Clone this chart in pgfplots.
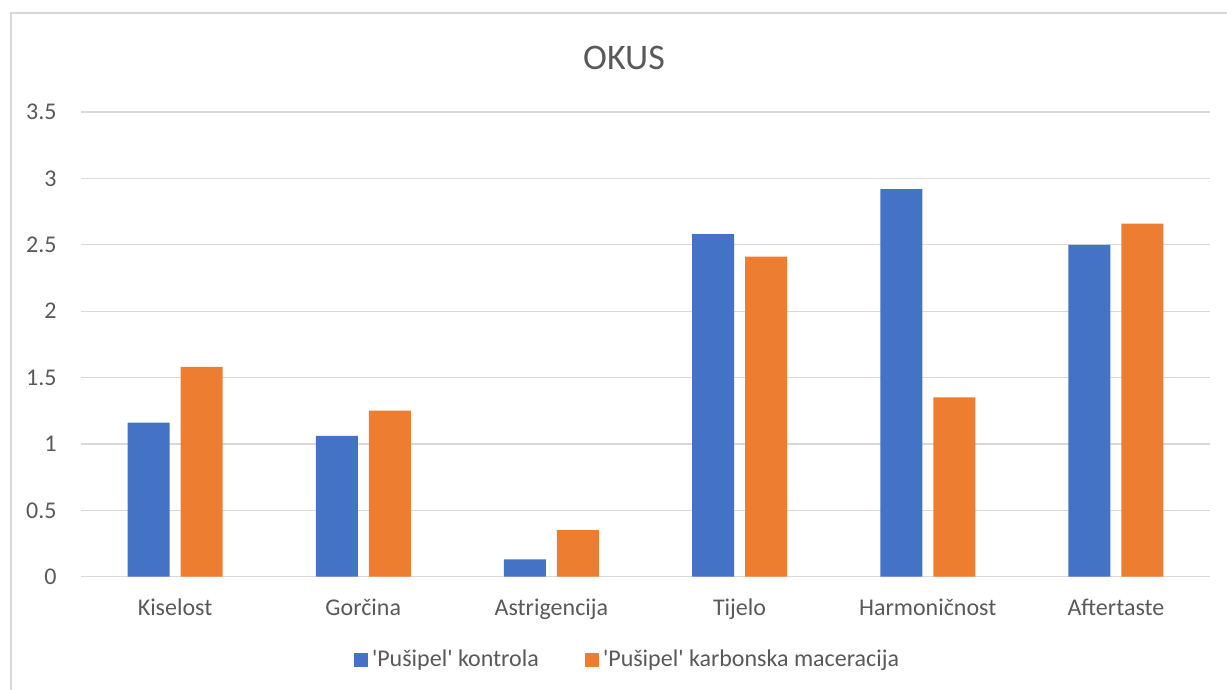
\documentclass[border=0pt]{standalone}
\usepackage{fontspec}
\setmainfont{Carlito}
\usepackage{pgfplots}
\pgfplotsset{compat=1.18}
\definecolor{txt}{HTML}{595959}
\definecolor{gridc}{HTML}{D9D9D9}
\definecolor{cblue}{HTML}{4472C4}
\definecolor{corange}{HTML}{ED7D31}
\newcommand{\q}{\textquotesingle}
\begin{document}
\begin{tikzpicture}
\useasboundingbox (-40.5pt,-56.65pt) rectangle (573pt,288.35pt);
\begin{scope}
\clip (-40.5pt,-56.65pt) rectangle (573pt,288.35pt);
\draw[gridc, line width=0.7pt] (-35pt,-80pt) -- (-35pt,281.85pt) -- (600pt,281.85pt);
\end{scope}
\begin{axis}[
  at={(0pt,0pt)}, anchor=south west,
  scale only axis, width=564.5pt, height=232.35pt,
  ymin=0, ymax=3.5, xmin=-0.5, xmax=5.5,
  ytick={0,0.5,1,1.5,2,2.5,3,3.5},
  yticklabels={0,0.5,1,1.5,2,2.5,3,3.5},
  xtick={0,1,2,3,4,5},
  xticklabels={Kiselost,Gorčina,Astrigencija,Tijelo,Harmoničnost,Aftertaste},
  ymajorgrids, grid style={gridc, line width=0.6pt},
  axis line style={draw=none},
  major tick length=0pt,
  ybar=5.5pt, bar width=21pt,
  tick label style={font=\fontsize{12}{14}\selectfont, text=txt},
  yticklabel style={anchor=east, inner sep=0pt, xshift=-12pt},
  xticklabel style={anchor=base, inner sep=0pt, yshift=-19.5pt},
  legend style={at={(0.485,-0.179)}, anchor=center, draw=none,
    font=\fontsize{12}{14}\selectfont, text=txt, legend columns=2,
    /tikz/every even column/.append style={column sep=21.5pt},
    nodes={inner sep=1.8pt}},
  legend image code/.code={\fill[#1] (0pt,-3.5pt) rectangle (7pt,3.5pt);},
  legend cell align=left,
]
\addplot[fill=cblue, draw=none] coordinates {(0,1.16) (1,1.06) (2,0.13) (3,2.58) (4,2.92) (5,2.50)};
\addplot[fill=corange, draw=none] coordinates {(0,1.58) (1,1.25) (2,0.35) (3,2.41) (4,1.35) (5,2.66)};
\legend{\q Pušipel\q{} kontrola, \q Pušipel\q{} karbonska maceracija}
\end{axis}
\node[anchor=base, font=\fontsize{18}{21}\selectfont, text=txt, inner sep=0pt] at (271.5pt,253.35pt) {OKUS};
\end{tikzpicture}
\end{document}
